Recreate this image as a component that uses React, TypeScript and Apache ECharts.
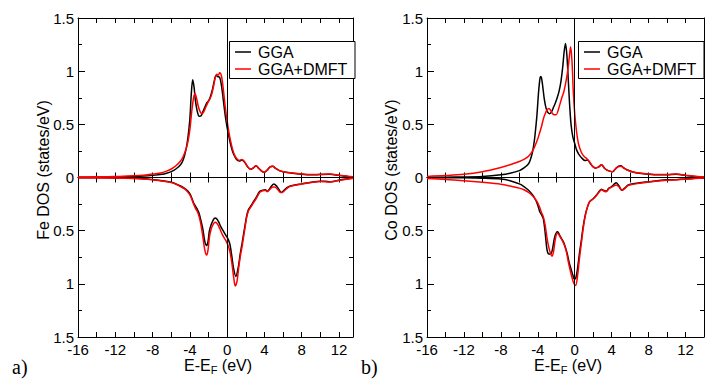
import React, { useEffect, useRef } from "react";
import * as echarts from "echarts";

// Projected d-DOS, [E - E_F (eV), DOS (states/eV)]; spin-down curves are stored as magnitudes.
const feUpGGA: [number, number][] = [
  [-16, 0.003], [-14, 0.004], [-12, 0.006], [-10, 0.01], [-9, 0.013], [-8, 0.02], [-7, 0.03], [-6.5, 0.04],
  [-6, 0.055], [-5.5, 0.08], [-5, 0.12], [-4.7, 0.17], [-4.4, 0.27], [-4.2, 0.38], [-4.0, 0.55], [-3.85, 0.78],
  [-3.7, 0.92], [-3.55, 0.85], [-3.4, 0.72], [-3.2, 0.62], [-3.0, 0.575], [-2.8, 0.58], [-2.6, 0.62], [-2.4, 0.66],
  [-2.2, 0.7], [-2.0, 0.72], [-1.8, 0.76], [-1.6, 0.82], [-1.4, 0.9], [-1.2, 0.96], [-1.0, 0.95], [-0.8, 0.94],
  [-0.6, 0.86], [-0.4, 0.72], [-0.2, 0.58], [0, 0.47], [0.2, 0.38], [0.4, 0.3], [0.6, 0.24], [0.8, 0.2],
  [1.0, 0.17], [1.3, 0.155], [1.6, 0.165], [1.9, 0.14], [2.2, 0.1], [2.5, 0.078], [2.8, 0.09], [3.1, 0.11],
  [3.4, 0.085], [3.7, 0.06], [4.0, 0.05], [4.3, 0.07], [4.6, 0.1], [4.9, 0.105], [5.2, 0.085], [5.6, 0.065],
  [6.0, 0.055], [7, 0.04], [8, 0.03], [9, 0.025], [10, 0.028], [11, 0.03], [12, 0.02], [13, 0.01], [13.5, 0.006],
];
const feUpDMFT: [number, number][] = [
  [-16, 0.004], [-14, 0.007], [-12, 0.01], [-10, 0.017], [-9, 0.022], [-8, 0.032], [-7, 0.045], [-6.5, 0.06],
  [-6, 0.08], [-5.5, 0.11], [-5, 0.155], [-4.7, 0.2], [-4.4, 0.27], [-4.2, 0.34], [-4.0, 0.45], [-3.8, 0.62],
  [-3.6, 0.75], [-3.45, 0.79], [-3.3, 0.75], [-3.1, 0.67], [-2.9, 0.62], [-2.7, 0.6], [-2.5, 0.62], [-2.3, 0.66],
  [-2.1, 0.7], [-1.9, 0.73], [-1.7, 0.77], [-1.5, 0.84], [-1.3, 0.93], [-1.1, 0.97], [-0.95, 0.965], [-0.8, 0.985],
  [-0.6, 0.95], [-0.4, 0.82], [-0.2, 0.66], [0, 0.53], [0.2, 0.42], [0.4, 0.33], [0.6, 0.26], [0.8, 0.21],
  [1.0, 0.18], [1.3, 0.16], [1.6, 0.17], [1.9, 0.145], [2.2, 0.1], [2.5, 0.078], [2.8, 0.09], [3.1, 0.11],
  [3.4, 0.085], [3.7, 0.06], [4.0, 0.05], [4.3, 0.07], [4.6, 0.1], [4.9, 0.105], [5.2, 0.085], [5.6, 0.065],
  [6.0, 0.055], [7, 0.042], [8, 0.033], [9, 0.028], [10, 0.03], [11, 0.032], [12, 0.022], [13, 0.012], [13.5, 0.008],
];
const feDnGGA: [number, number][] = [
  [-16, 0.002], [-14, 0.003], [-12, 0.004], [-10, 0.008], [-9, 0.012], [-8, 0.02], [-7, 0.03], [-6, 0.045],
  [-5.5, 0.06], [-5, 0.08], [-4.6, 0.1], [-4.2, 0.13], [-3.9, 0.17], [-3.6, 0.24], [-3.4, 0.27], [-3.2, 0.3],
  [-3.0, 0.34], [-2.8, 0.41], [-2.6, 0.49], [-2.4, 0.6], [-2.2, 0.64], [-2.05, 0.6], [-1.9, 0.5], [-1.7, 0.44],
  [-1.5, 0.4], [-1.3, 0.38], [-1.1, 0.39], [-0.9, 0.42], [-0.7, 0.46], [-0.5, 0.49], [-0.3, 0.52], [-0.1, 0.55],
  [0.1, 0.58], [0.3, 0.63], [0.5, 0.74], [0.7, 0.86], [0.93, 0.93], [1.2, 0.84], [1.4, 0.72], [1.6, 0.62],
  [1.9, 0.46], [2.1, 0.36], [2.3, 0.3], [2.6, 0.26], [2.8, 0.23], [3.1, 0.19], [3.5, 0.13], [3.8, 0.12],
  [4.1, 0.115], [4.3, 0.13], [4.6, 0.1], [5.0, 0.06], [5.3, 0.08], [5.6, 0.12], [5.8, 0.14], [6.1, 0.12],
  [6.5, 0.09], [7, 0.075], [8, 0.06], [9, 0.045], [10, 0.035], [10.5, 0.035], [11, 0.04], [11.5, 0.035],
  [12, 0.025], [13, 0.012], [13.5, 0.006],
];
const feDnDMFT: [number, number][] = [
  [-16, 0.002], [-14, 0.003], [-12, 0.005], [-10, 0.01], [-9, 0.014], [-8, 0.022], [-7, 0.032], [-6, 0.048],
  [-5.5, 0.063], [-5, 0.085], [-4.6, 0.105], [-4.2, 0.14], [-3.9, 0.18], [-3.6, 0.25], [-3.4, 0.29], [-3.2, 0.32],
  [-3.0, 0.37], [-2.8, 0.45], [-2.6, 0.56], [-2.4, 0.68], [-2.2, 0.73], [-2.05, 0.68], [-1.9, 0.56], [-1.7, 0.48],
  [-1.5, 0.44], [-1.3, 0.42], [-1.1, 0.43], [-0.9, 0.46], [-0.7, 0.5], [-0.5, 0.54], [-0.3, 0.57], [-0.1, 0.6],
  [0.1, 0.64], [0.3, 0.7], [0.5, 0.8], [0.7, 0.94], [0.87, 1.02], [1.05, 0.98], [1.25, 0.84], [1.45, 0.72],
  [1.6, 0.65], [1.9, 0.48], [2.1, 0.37], [2.3, 0.31], [2.6, 0.27], [2.8, 0.24], [3.1, 0.2], [3.5, 0.14],
  [3.8, 0.125], [4.1, 0.12], [4.3, 0.135], [4.6, 0.11], [4.9, 0.09], [5.1, 0.09], [5.4, 0.11], [5.7, 0.14],
  [5.9, 0.14], [6.2, 0.12], [6.6, 0.09], [7, 0.078], [8, 0.062], [9, 0.047], [10, 0.037], [11, 0.042],
  [12, 0.026], [13, 0.013], [13.5, 0.007],
];
const coUpGGA: [number, number][] = [
  [-16, 0.002], [-14, 0.003], [-12, 0.005], [-10, 0.01], [-8, 0.025], [-7, 0.04], [-6, 0.065], [-5.5, 0.09],
  [-5, 0.13], [-4.8, 0.17], [-4.6, 0.23], [-4.45, 0.3], [-4.3, 0.4], [-4.1, 0.58], [-3.9, 0.82], [-3.75, 0.94],
  [-3.65, 0.95], [-3.5, 0.88], [-3.3, 0.74], [-3.1, 0.65], [-2.9, 0.61], [-2.7, 0.6], [-2.5, 0.62], [-2.3, 0.66],
  [-2.1, 0.7], [-1.9, 0.75], [-1.7, 0.81], [-1.5, 0.9], [-1.3, 1.04], [-1.15, 1.18], [-1.0, 1.26], [-0.85, 1.15],
  [-0.7, 0.92], [-0.55, 0.68], [-0.4, 0.5], [-0.2, 0.38], [0, 0.32], [0.2, 0.26], [0.5, 0.21], [0.8, 0.18],
  [1.1, 0.16], [1.4, 0.165], [1.7, 0.13], [2.0, 0.1], [2.3, 0.09], [2.6, 0.1], [2.9, 0.12], [3.2, 0.09],
  [3.5, 0.07], [3.8, 0.06], [4.1, 0.055], [4.4, 0.08], [4.7, 0.105], [5.0, 0.11], [5.3, 0.09], [5.7, 0.07],
  [6.2, 0.055], [7, 0.04], [8, 0.03], [9, 0.025], [10, 0.025], [11, 0.03], [12, 0.02], [13, 0.01], [14, 0.005],
];
const coUpDMFT: [number, number][] = [
  [-16, 0.01], [-14, 0.018], [-12, 0.03], [-10, 0.055], [-8, 0.095], [-7, 0.12], [-6, 0.15], [-5.5, 0.17],
  [-5, 0.2], [-4.5, 0.26], [-4.1, 0.34], [-3.8, 0.42], [-3.6, 0.48], [-3.4, 0.55], [-3.2, 0.6], [-3.0, 0.635],
  [-2.8, 0.65], [-2.6, 0.63], [-2.4, 0.6], [-2.2, 0.59], [-2.0, 0.59], [-1.8, 0.63], [-1.6, 0.69], [-1.4, 0.75],
  [-1.2, 0.8], [-1.0, 0.88], [-0.8, 0.98], [-0.6, 1.12], [-0.45, 1.23], [-0.3, 1.1], [-0.15, 0.8], [0, 0.6],
  [0.2, 0.43], [0.4, 0.32], [0.7, 0.24], [1.0, 0.2], [1.4, 0.17], [1.7, 0.135], [2.0, 0.1], [2.3, 0.09],
  [2.6, 0.1], [2.9, 0.12], [3.2, 0.09], [3.5, 0.07], [3.8, 0.06], [4.1, 0.055], [4.4, 0.08], [4.7, 0.1],
  [5.0, 0.105], [5.3, 0.09], [5.7, 0.07], [6.2, 0.055], [7, 0.042], [8, 0.033], [9, 0.028], [10, 0.028],
  [11, 0.032], [12, 0.022], [13, 0.012], [14, 0.006],
];
const coDnGGA: [number, number][] = [
  [-16, 0.001], [-14, 0.002], [-12, 0.003], [-10, 0.006], [-8, 0.014], [-7, 0.03], [-6, 0.06], [-5.5, 0.085],
  [-5, 0.12], [-4.6, 0.16], [-4.3, 0.2], [-4.0, 0.26], [-3.8, 0.32], [-3.6, 0.35], [-3.4, 0.39], [-3.2, 0.52],
  [-3.0, 0.68], [-2.8, 0.72], [-2.6, 0.72], [-2.4, 0.67], [-2.2, 0.57], [-2.0, 0.52], [-1.85, 0.51], [-1.6, 0.55],
  [-1.4, 0.58], [-1.2, 0.61], [-1.0, 0.66], [-0.8, 0.72], [-0.6, 0.8], [-0.4, 0.86], [-0.2, 0.92], [-0.05, 0.955],
  [0.1, 0.95], [0.3, 0.86], [0.5, 0.72], [0.7, 0.6], [0.9, 0.47], [1.1, 0.37], [1.3, 0.3], [1.6, 0.23],
  [2.0, 0.2], [2.4, 0.16], [2.7, 0.125], [2.9, 0.11], [3.1, 0.12], [3.4, 0.13], [3.7, 0.1], [4.0, 0.086],
  [4.3, 0.06], [4.5, 0.05], [4.8, 0.08], [5.1, 0.12], [5.4, 0.1], [5.8, 0.07], [6.2, 0.06], [7, 0.05],
  [8, 0.04], [9, 0.03], [10, 0.022], [11, 0.02], [12, 0.015], [13, 0.008], [14, 0.004],
];
const coDnDMFT: [number, number][] = [
  [-16, 0.01], [-14, 0.018], [-12, 0.03], [-10, 0.045], [-8, 0.063], [-7, 0.08], [-6, 0.1], [-5.5, 0.115],
  [-5, 0.14], [-4.6, 0.17], [-4.3, 0.2], [-4.0, 0.24], [-3.8, 0.28], [-3.6, 0.33], [-3.4, 0.37], [-3.2, 0.45],
  [-3.0, 0.57], [-2.8, 0.66], [-2.6, 0.72], [-2.45, 0.74], [-2.3, 0.7], [-2.1, 0.58], [-1.9, 0.525], [-1.7, 0.54],
  [-1.5, 0.57], [-1.3, 0.6], [-1.1, 0.64], [-0.9, 0.7], [-0.7, 0.79], [-0.5, 0.87], [-0.3, 0.94], [-0.1, 0.995],
  [0.1, 1.015], [0.3, 0.93], [0.5, 0.77], [0.7, 0.63], [0.9, 0.49], [1.1, 0.38], [1.3, 0.3], [1.6, 0.23],
  [2.0, 0.2], [2.4, 0.165], [2.7, 0.13], [2.9, 0.115], [3.1, 0.125], [3.4, 0.135], [3.7, 0.105], [4.0, 0.09],
  [4.3, 0.075], [4.5, 0.07], [4.8, 0.09], [5.1, 0.12], [5.4, 0.105], [5.8, 0.075], [6.2, 0.065], [7, 0.055],
  [8, 0.043], [9, 0.033], [10, 0.025], [11, 0.022], [12, 0.016], [13, 0.009], [14, 0.005],
];

const seriesNames = ["GGA", "GGA+DMFT"];
const seriesColors = ["#000000", "#ff0000"];
const yTitles = ["Fe DOS (states/eV)", "Co DOS (states/eV)"];
const panelTags = ["a)", "b)"];

const SANS = "'Liberation Sans', Arial, Helvetica, sans-serif";
const SERIF = "'Liberation Serif', 'DejaVu Serif', serif";

// Plot frames of the two panels (pixels)
const panelLayout = [
  { left: 78, right: 716 - 353, xMax: 13.5, yTitleX: 43, xTitleX: 218, tagX: 12, legendX: 229.5 },
  { left: 427, right: 716 - 704, xMax: 14, yTitleX: 391, xTitleX: 568, tagX: 361, legendX: 578.5 },
];
const TOP = 18;
const HALF = 159.5;

function buildOption() {
  const panelData = [
    { up: [feUpGGA, feUpDMFT], dn: [feDnGGA, feDnDMFT] },
    { up: [coUpGGA, coUpDMFT], dn: [coDnGGA, coDnDMFT] },
  ];
  const grids: any[] = [];
  const xAxes: any[] = [];
  const yAxes: any[] = [];
  const series: any[] = [];
  const graphics: any[] = [];

  panelLayout.forEach((p, pi) => {
    [0, 1].forEach((half) => {
      const g = pi * 2 + half;
      const lower = half === 1;
      grids.push({ left: p.left, right: p.right, top: lower ? TOP + HALF : TOP, height: HALF, containLabel: false });

      ["bottom", "top"].forEach((pos) => {
        xAxes.push({
          type: "value",
          gridIndex: g,
          position: pos,
          min: -16,
          max: p.xMax,
          interval: 2,
          axisLine: { show: true, onZero: false, lineStyle: { color: "#000", width: 1 } },
          axisTick: { show: true, inside: true, length: 5, lineStyle: { color: "#000", width: 1 } },
          splitLine: { show: false },
          axisLabel: {
            show: lower && pos === "bottom",
            color: "#000",
            fontSize: 15,
            lineHeight: 12,
            fontFamily: SANS,
            margin: 6,
            formatter: (v: number) => (Math.abs(v % 4) < 1e-9 ? String(v) : ""),
          },
        });
      });
      ["left", "right"].forEach((pos) => {
        yAxes.push({
          type: "value",
          gridIndex: g,
          position: pos,
          min: 0,
          max: 1.5,
          interval: 0.5,
          inverse: lower,
          axisLine: { show: true, onZero: false, lineStyle: { color: "#000", width: 1 } },
          axisTick: { show: true, inside: true, length: 7, lineStyle: { color: "#000", width: 1 } },
          minorTick: { show: true, splitNumber: 2, length: 4, lineStyle: { color: "#000", width: 1 } },
          splitLine: { show: false },
          minorSplitLine: { show: false },
          axisLabel: {
            show: pos === "left",
            color: "#000",
            fontSize: 15,
            lineHeight: 12,
            fontFamily: SANS,
            margin: 4,
            formatter: (v: number) => (lower && v === 0 ? "" : String(v)),
          },
        });
      });

      const curves = lower ? panelData[pi].dn : panelData[pi].up;
      curves.forEach((data, si) => {
        series.push({
          type: "line",
          name: seriesNames[si],
          xAxisIndex: g * 2,
          yAxisIndex: g * 2,
          data,
          showSymbol: false,
          smooth: 0.3,
          lineStyle: { color: seriesColors[si], width: 1.5 },
          itemStyle: { color: seriesColors[si] },
          silent: true,
          z: 3 + si,
          markLine:
            si === 0
              ? {
                  silent: true,
                  symbol: ["none", "none"],
                  label: { show: false },
                  lineStyle: { color: "#000", width: 1, type: "solid" },
                  data: [{ xAxis: 0 }],
                }
              : undefined,
        });
      });
    });

    // axis titles
    graphics.push({
      type: "text",
      x: p.yTitleX,
      y: 170,
      rotation: Math.PI / 2,
      style: { text: yTitles[pi], font: `16px ${SANS}`, fill: "#000", align: "center", verticalAlign: "middle" },
    });
    graphics.push({
      type: "text",
      x: p.xTitleX,
      y: 355,
      style: {
        text: "{m|E-E}{s|F}{m| (eV)}",
        align: "center",
        verticalAlign: "top",
        fill: "#000",
        rich: {
          m: { fontSize: 16, fontFamily: SANS, lineHeight: 20, verticalAlign: "middle", fill: "#000" },
          s: { fontSize: 11, fontFamily: SANS, lineHeight: 6, verticalAlign: "bottom", fill: "#000" },
        },
      },
    });
    graphics.push({
      type: "text",
      x: p.tagX,
      y: 377,
      style: { text: panelTags[pi], font: `20px ${SERIF}`, fill: "#000", align: "left", verticalAlign: "bottom" },
    });

    // legend box
    const lx = p.legendX;
    graphics.push({
      type: "rect",
      shape: { x: lx, y: 41.5, width: 125.5, height: 37 },
      style: { fill: "#fff", stroke: "#000", lineWidth: 1 },
      z: 10,
    });
    seriesNames.forEach((name, si) => {
      const cy = 52 + si * 17;
      graphics.push({
        type: "line",
        shape: { x1: lx + 5.5, y1: cy, x2: lx + 21.5, y2: cy },
        style: { stroke: seriesColors[si], lineWidth: 1.5 },
        z: 11,
      });
      graphics.push({
        type: "text",
        x: lx + 28.5,
        y: cy + 0.5,
        style: { text: name, font: `16px ${SANS}`, fill: "#000", align: "left", verticalAlign: "middle" },
        z: 11,
      });
    });
  });

  return {
    animation: false,
    backgroundColor: "#ffffff",
    grid: grids,
    xAxis: xAxes,
    yAxis: yAxes,
    series,
    graphic: graphics,
  };
}

export default function App() {
  const ref = useRef<HTMLDivElement>(null);
  useEffect(() => {
    if (!ref.current) return;
    const chart = echarts.init(ref.current, undefined, { renderer: "svg" });
    chart.setOption(buildOption() as any);
    return () => chart.dispose();
  }, []);
  return <div ref={ref} style={{ position: "absolute", left: 0, top: 0, width: 716, height: 379 }} />;
}
